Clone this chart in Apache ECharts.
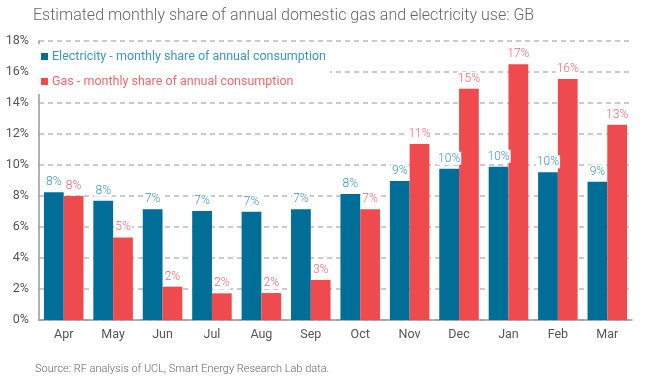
<!DOCTYPE html>
<html><head><meta charset="utf-8">
<script src="https://cdn.jsdelivr.net/npm/echarts@6/dist/echarts.min.js"></script>
<style>html,body{margin:0;padding:0;background:#fff}#c{width:646px;height:383px}</style>
</head><body><div id="c"></div>
<script>
const months = ['Apr','May','Jun','Jul','Aug','Sep','Oct','Nov','Dec','Jan','Feb','Mar'];
const electricity = [8.24,7.70,7.14,7.03,6.99,7.14,8.13,8.97,9.76,9.89,9.53,8.92];
const gas = [8.0,5.33,2.15,1.72,1.74,2.58,7.14,11.35,14.92,16.5,15.55,12.6];
const yTicks = [0,2,4,6,8,10,12,14,16,18];
const elecName = 'Electricity - monthly share of annual consumption';
const gasName = 'Gas - monthly share of annual consumption';
const titleText = 'Estimated monthly share of annual domestic gas and electricity use: GB';
const sourceText = 'Source: RF analysis of UCL, Smart Energy Research Lab data.';

const elecColor = '#006e96', elecText = '#3d96c4';
const gasColor = '#ef4b4f', gasText = '#f4686c';
const font = 'Roboto';

function lbl(color){
  return {show:true, position:'top', distance:4, color:color, fontFamily:font, fontSize:12, fontWeight:300,
    backgroundColor:'#fff', padding:[1,1,0,1],
    formatter:p=>Math.round(p.value)+'%'};
}
const chart = echarts.init(document.getElementById('c'));
chart.setOption({
  animation:false,
  title:[{text:titleText,left:33,top:8,padding:0,textStyle:{fontFamily:font,fontSize:16,fontWeight:300,color:'#666'}},
         {text:sourceText,left:35,top:364,padding:0,textStyle:{fontFamily:font,fontSize:11,fontWeight:300,color:'#666'}}],
  legend:{orient:'vertical',left:37,top:44,itemWidth:7,itemHeight:7,itemGap:12,
    backgroundColor:'#fff',padding:[6,4,6,4],icon:'rect',
    textStyle:{fontFamily:font,fontSize:12.5,padding:[0,0,0,-1]},
    data:[{name:elecName,textStyle:{color:elecText}},{name:gasName,textStyle:{color:gasText}}]},
  grid:{left:39,right:14,top:41,bottom:63},
  xAxis:{type:'category',data:months,
    axisLine:{lineStyle:{color:'#999',width:1.5}},axisTick:{show:false},
    axisLabel:{color:'#555',fontFamily:font,fontSize:12.5,margin:8}},
  yAxis:{type:'value',min:0,max:18,interval:2,
    axisLine:{show:true,lineStyle:{color:'#999',width:1.5}},
    axisLabel:{color:'#555',fontFamily:font,fontSize:12.5,margin:10,formatter:v=>yTicks.includes(v)?v+'%':''},
    splitLine:{lineStyle:{color:'#bbb',type:[5,4],width:1.5}}},
  series:[
    {name:elecName,type:'bar',data:electricity,barGap:'0%',barCategoryGap:'20%',
      itemStyle:{color:elecColor},label:lbl(elecText)},
    {name:gasName,type:'bar',data:gas,
      itemStyle:{color:gasColor},label:lbl(gasText)}
  ]
});
</script></body></html>
